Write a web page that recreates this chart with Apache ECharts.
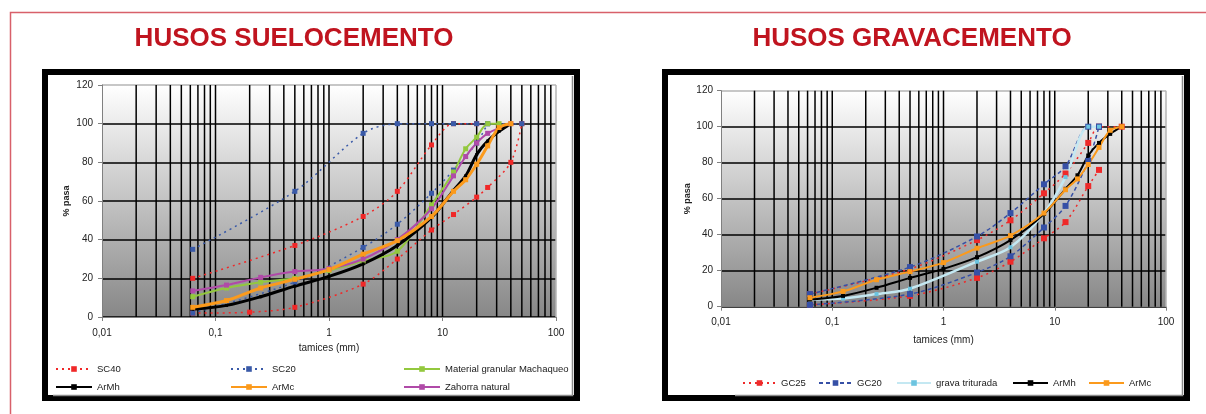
<!DOCTYPE html>
<html><head><meta charset="utf-8">
<script src="https://cdn.jsdelivr.net/npm/echarts@6/dist/echarts.min.js"></script>
<style>html,body{margin:0;padding:0;background:#fff}#c{width:1206px;height:414px}</style>
</head><body><div id="c"></div>
<script>
// ---------- tick labels ----------
const xTickLabels = ['0,01', '0,1', '1', '10', '100'];
const yTickValues = [0, 20, 40, 60, 80, 100, 120];

// ---------- HUSOS SUELOCEMENTO (left) ----------
const sc40Upper = [[0.063, 20], [0.5, 37], [2, 52], [4, 65], [8, 89], [12.5, 100], [20, 100]];
const sc40Lower = [[0.063, 2], [0.2, 2.5], [0.5, 5], [2, 17], [4, 30], [8, 45], [12.5, 53], [20, 62], [25, 67], [40, 80], [50, 100]];
const sc20Upper = [[0.063, 35], [0.5, 65], [2, 95], [4, 100], [8, 100], [12.5, 100], [20, 100], [25, 100], [50, 100]];
const sc20Lower = [[0.063, 2], [0.5, 18], [2, 36], [4, 48], [8, 64], [12.5, 76], [20, 90], [25, 100]];
const machaqueo = [[0.063, 10.5], [0.125, 15], [0.25, 18], [0.5, 20], [1, 24], [2, 29], [4, 34], [8, 58], [12.5, 75], [16, 87], [20, 93], [25, 100], [31.5, 100]];
const zahorra = [[0.063, 13.5], [0.125, 16.5], [0.25, 20.5], [0.5, 23.5], [1, 25], [2, 30], [4, 40], [8, 56], [12.5, 73], [16, 83], [20, 90], [25, 95], [40, 100]];

// ---------- shared materials ----------
const armh = [[0.063, 4], [0.125, 6], [0.25, 10.5], [0.5, 16], [1, 21], [2, 27.5], [4, 37], [8, 51.5], [12.5, 65.5], [16, 73], [20, 84], [25, 91], [31.5, 96], [40, 100]];
const armc = [[0.063, 5], [0.125, 8.5], [0.25, 15], [0.5, 19.5], [1, 24.5], [2, 32.5], [4, 39.5], [8, 52], [12.5, 65], [16, 71], [20, 79], [25, 88.5], [31.5, 98], [40, 100]];

// ---------- HUSOS GRAVACEMENTO (right) ----------
const gc25Upper = [[0.063, 7], [0.5, 21], [2, 37], [4, 48], [8, 63], [12.5, 74], [20, 91], [25, 100], [40, 100]];
const gc25Lower = [[0.063, 1], [0.5, 6], [2, 16], [4, 25], [8, 38], [12.5, 47], [20, 67], [25, 76]];
const gc20Upper = [[0.063, 7], [0.5, 22], [2, 39], [4, 52], [8, 68], [12.5, 78], [20, 100], [25, 100]];
const gc20Lower = [[0.063, 1], [0.5, 7], [2, 19], [4, 28], [8, 44], [12.5, 56], [20, 81], [25, 100]];
const grava = [[0.063, 4], [0.125, 4.5], [0.25, 7], [0.5, 10], [2, 25], [4, 33], [8, 52], [12.5, 72], [20, 100], [25, 100]];

// vertical log grid positions (axis grid, not data)
const gridX = [];
[0.01, 0.1, 1, 10].forEach(d => { for (let k = 1; k <= 9; k++) { if (d === 0.01 && k === 1) continue; gridX.push([Number((k * d).toPrecision(3)), 0]); } });
gridX.push([100, 1]);

const FONT = '"Liberation Sans", Arial, sans-serif';
const chart = echarts.init(document.getElementById('c'), null, {renderer: 'canvas'});

function bg() {
  return new echarts.graphic.LinearGradient(0, 0, 0, 1, [
    {offset: 0, color: '#ffffff'}, {offset: 1, color: '#878787'}]);
}
function xAxis(gi, gap) {
  return {
    type: 'log', logBase: 10, min: 0.01, max: 100, gridIndex: gi,
    axisLine: {show: true, lineStyle: {color: '#808080', width: 1}},
    axisTick: {show: true, length: 4, lineStyle: {color: '#808080'}},
    axisLabel: {fontSize: 10, color: '#222', margin: 11, fontFamily: FONT,
      formatter: v => xTickLabels[Math.round(Math.log10(v)) + 2]},
    splitLine: {show: false}, minorTick: {show: false},
    name: 'tamices (mm)', nameLocation: 'middle', nameGap: gap,
    nameTextStyle: {fontSize: 10, color: '#222', fontFamily: FONT}
  };
}
function yAxis(gi, gap, margin) {
  return {
    type: 'value', min: 0, max: 120, interval: 20, gridIndex: gi,
    axisLine: {show: true, lineStyle: {color: '#808080', width: 1}},
    axisTick: {show: true, length: 4, lineStyle: {color: '#808080'}},
    axisLabel: {fontSize: 10, color: '#222', margin: margin, fontFamily: FONT},
    splitLine: {show: true, lineStyle: {color: ['#000', '#000', '#000', '#000', '#000', '#000', '#b5b5b5'], width: 1.5}},
    name: '% pasa', nameLocation: 'middle', nameGap: gap, nameRotate: 90,
    nameTextStyle: {fontSize: 9, color: '#222', fontWeight: 'bold', fontFamily: FONT}
  };
}
function gridLines(i) {
  return {
    type: 'custom', xAxisIndex: i, yAxisIndex: i, z: 1, silent: true, data: gridX,
    renderItem: (params, api) => {
      const x = api.value(0);
      const p1 = api.coord([x, 0]), p2 = api.coord([x, 120]);
      return {type: 'line', shape: {x1: p1[0], y1: p1[1], x2: p2[0], y2: p2[1]},
        style: {stroke: api.value(1) ? '#b5b5b5' : '#000', lineWidth: 1.5}};
    }
  };
}
function line(name, data, i, color, width, type, sym, symSize, symColor) {
  return {
    type: 'line', name: name, data: data, xAxisIndex: i, yAxisIndex: i, z: 3,
    smooth: 0.3, symbol: sym, symbolSize: symSize, showSymbol: true,
    lineStyle: {color: color, width: width, type: type},
    itemStyle: {color: symColor || color},
    color: color, emphasis: {disabled: true}
  };
}
function legendItem(name, x, y, w) {
  return {
    data: [name], left: x, top: y - 6, padding: 0, itemWidth: w || 36, itemHeight: 7,
    textStyle: {fontSize: 9.5, color: '#1a1a1a', fontFamily: FONT, lineHeight: 12},
    selectedMode: false
  };
}

const DOT = [2, 4];
const option = {
  animation: false,
  grid: [
    {left: 102, right: 650, top: 85, bottom: 97, show: true, backgroundColor: bg(), borderWidth: 0},
    {left: 721, right: 40, top: 90.7, bottom: 107.3, show: true, backgroundColor: bg(), borderWidth: 0}
  ],
  xAxis: [xAxis(0, 21), xAxis(1, 29)],
  yAxis: [yAxis(0, 31, 9), yAxis(1, 28, 8)],
  legend: [
    legendItem('SC40', 55, 369), legendItem('SC20', 230, 369), legendItem('Material granular Machaqueo', 403, 369),
    legendItem('ArMh', 55, 387), legendItem('ArMc', 230, 387), legendItem('Zahorra natural', 403, 387),
    legendItem('GC25', 742, 383, 33), legendItem('GC20', 818, 383, 33), legendItem('grava triturada', 896, 383, 34),
    legendItem('ArMh', 1012, 383, 35), legendItem('ArMc', 1088, 383, 35)
  ],
  series: [
    gridLines(0), gridLines(1),
    line('SC40', sc40Upper, 0, '#f02828', 1.5, DOT, 'rect', 5),
    line('SC40', sc40Lower, 0, '#f02828', 1.5, DOT, 'rect', 5),
    line('SC20', sc20Upper, 0, '#3a5aa8', 1.5, DOT, 'rect', 5),
    line('SC20', sc20Lower, 0, '#3a5aa8', 1.5, DOT, 'rect', 5),
    line('Material granular Machaqueo', machaqueo, 0, '#93c83e', 2, 'solid', 'rect', 5),
    line('Zahorra natural', zahorra, 0, '#b04aa8', 2, 'solid', 'rect', 5),
    line('ArMh', armh, 0, '#000000', 3, 'solid', 'rect', 3),
    line('ArMc', armc, 0, '#fb9a1c', 3, 'solid', 'rect', 5),
    line('GC25', gc25Upper, 1, '#ee2a2a', 1.5, DOT, 'rect', 6),
    line('GC25', gc25Lower, 1, '#ee2a2a', 1.5, DOT, 'rect', 6),
    line('GC20', gc20Upper, 1, '#3650a6', 1.5, [4, 3], 'rect', 6),
    line('GC20', gc20Lower, 1, '#3650a6', 1.5, [4, 3], 'rect', 6),
    line('grava triturada', grava, 1, '#c4e8f2', 2.5, 'solid', 'rect', 4, '#6cc4e0'),
    line('ArMh', armh, 1, '#000000', 2, 'solid', 'rect', 4),
    line('ArMc', armc, 1, '#fb9a1c', 2, 'solid', 'rect', 5)
  ],
  graphic: [
    {type: 'polyline', silent: true, shape: {points: [[10.5, 414], [10.5, 12.5], [1206, 12.5]]},
      style: {stroke: '#d8606a', lineWidth: 1.5, fill: null}},
    {type: 'text', silent: true, style: {text: 'HUSOS SUELOCEMENTO', x: 294, y: 39, align: 'center', verticalAlign: 'middle',
      font: 'bold 26px ' + FONT, fill: '#c0141f'}},
    {type: 'text', silent: true, style: {text: 'HUSOS GRAVACEMENTO', x: 912, y: 39, align: 'center', verticalAlign: 'middle',
      font: 'bold 26px ' + FONT, fill: '#c0141f'}},
    // left box
    {type: 'rect', silent: true, shape: {x: 45, y: 72, width: 532, height: 326}, style: {stroke: '#000', lineWidth: 6, fill: null}},
    {type: 'polyline', silent: true, shape: {points: [[53, 395.5], [572.5, 395.5], [572.5, 76]]}, style: {stroke: '#8a8a8a', lineWidth: 1.5, fill: null}},
    // right box
    {type: 'rect', silent: true, shape: {x: 665, y: 72, width: 522, height: 326}, style: {stroke: '#000', lineWidth: 6, fill: null}},
    {type: 'polyline', silent: true, shape: {points: [[735, 395.5], [1182.5, 395.5], [1182.5, 76]]}, style: {stroke: '#8a8a8a', lineWidth: 1.5, fill: null}}
  ]
};
chart.setOption(option);
</script></body></html>
